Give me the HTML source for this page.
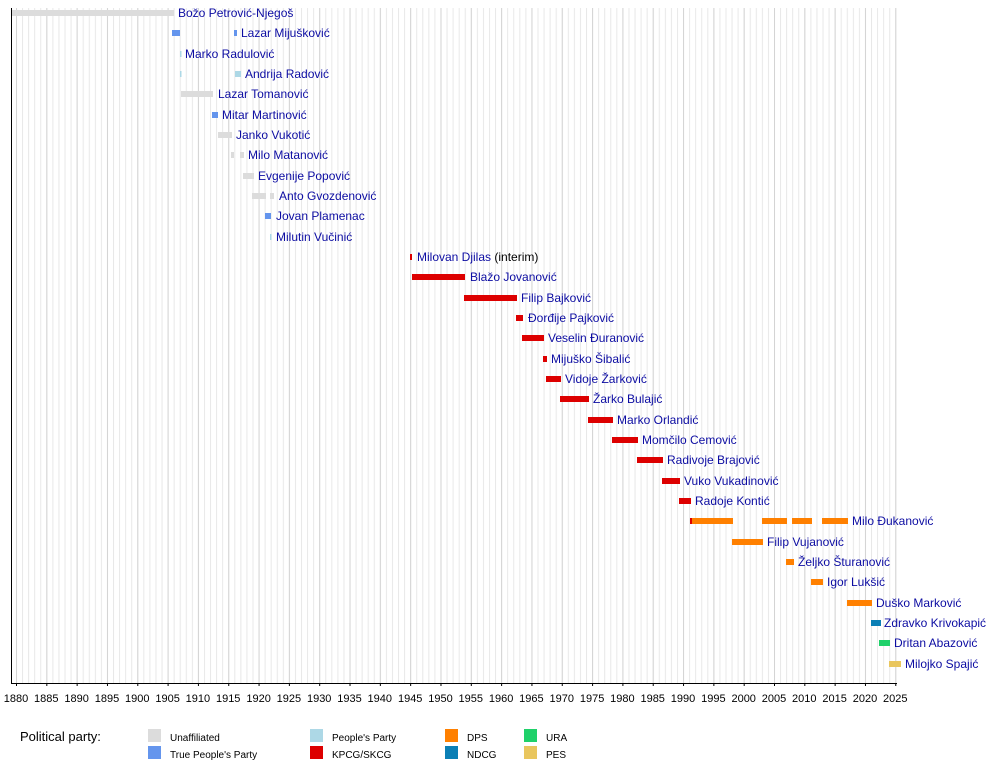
<!DOCTYPE html>
<html><head><meta charset="utf-8"><style>
html,body{margin:0;padding:0;background:#fff;width:1000px;height:762px;overflow:hidden}
svg{display:block}
text{font-family:"Liberation Sans",sans-serif}
.n{fill:#0c0ca2;font-size:12px}
.t{fill:#000;font-size:11px;text-anchor:middle}
.l{fill:#000;font-size:10px}
</style></head><body>
<svg width="1000" height="762" xmlns="http://www.w3.org/2000/svg">
<defs>
<pattern id="g1" x="16" y="0" width="6.064" height="700" patternUnits="userSpaceOnUse"><rect x="0" y="0" width="1" height="700" fill="#e8e8e8"/></pattern>
<pattern id="g5" x="16" y="0" width="30.32" height="700" patternUnits="userSpaceOnUse"><rect x="0" y="0" width="1" height="700" fill="#d4d4d4"/></pattern>
<pattern id="k1" x="16" y="0" width="6.064" height="10" patternUnits="userSpaceOnUse"><rect x="0" y="0" width="1" height="3" fill="#000"/></pattern>
<pattern id="k5" x="16" y="0" width="30.32" height="10" patternUnits="userSpaceOnUse"><rect x="0" y="0" width="1" height="6" fill="#000"/></pattern>
</defs>
<rect x="15" y="8" width="882" height="675" fill="url(#g1)"/>
<rect x="15" y="8" width="882" height="675" fill="url(#g5)"/>
<rect x="11" y="8" width="1" height="676" fill="#000"/>
<rect x="11" y="683" width="886" height="1" fill="#000"/>
<rect x="15" y="684" width="882" height="3" fill="url(#k1)"/>
<rect x="15" y="684" width="882" height="6" fill="url(#k5)"/>
<g class="t">
<text x="16" y="702">1880</text><text x="46.3" y="702">1885</text><text x="76.6" y="702">1890</text><text x="107" y="702">1895</text><text x="137.3" y="702">1900</text><text x="167.6" y="702">1905</text><text x="197.9" y="702">1910</text><text x="228.2" y="702">1915</text><text x="258.6" y="702">1920</text><text x="288.9" y="702">1925</text><text x="319.2" y="702">1930</text><text x="349.5" y="702">1935</text><text x="379.8" y="702">1940</text><text x="410.2" y="702">1945</text><text x="440.5" y="702">1950</text><text x="470.8" y="702">1955</text><text x="501.1" y="702">1960</text><text x="531.4" y="702">1965</text><text x="561.8" y="702">1970</text><text x="592.1" y="702">1975</text><text x="622.4" y="702">1980</text><text x="652.7" y="702">1985</text><text x="683" y="702">1990</text><text x="713.4" y="702">1995</text><text x="743.7" y="702">2000</text><text x="774" y="702">2005</text><text x="804.3" y="702">2010</text><text x="834.6" y="702">2015</text><text x="865" y="702">2020</text><text x="895.3" y="702">2025</text>
</g>
<g>
<rect x="12" y="10" width="162" height="6" fill="#dcdcdc"/>
<rect x="172" y="30" width="8" height="6" fill="#6495ed"/><rect x="234" y="30" width="3" height="6" fill="#6495ed"/>
<rect x="180" y="51" width="1.5" height="6" fill="#add8e6"/>
<rect x="180" y="71" width="1.5" height="6" fill="#add8e6"/><rect x="235" y="71" width="6" height="6" fill="#add8e6"/>
<rect x="181" y="91" width="32" height="6" fill="#dcdcdc"/>
<rect x="212" y="112" width="6" height="6" fill="#6495ed"/>
<rect x="218" y="132" width="14" height="6" fill="#dcdcdc"/>
<rect x="231" y="152" width="3" height="6" fill="#dcdcdc"/><rect x="240" y="152" width="4" height="6" fill="#dcdcdc"/>
<rect x="243" y="173" width="11" height="6" fill="#dcdcdc"/>
<rect x="252" y="193" width="14" height="6" fill="#dcdcdc"/><rect x="270" y="193" width="4" height="6" fill="#dcdcdc"/>
<rect x="265" y="213" width="6" height="6" fill="#6495ed"/>
<rect x="270" y="234" width="1.5" height="6" fill="#add8e6"/>
<g fill="#dd0000">
<rect x="410" y="254" width="2" height="6"/>
<rect x="412" y="274" width="53" height="6"/>
<rect x="464" y="295" width="53" height="6"/>
<rect x="516" y="315" width="7" height="6"/>
<rect x="522" y="335" width="22" height="6"/>
<rect x="543" y="356" width="4" height="6"/>
<rect x="546" y="376" width="15" height="6"/>
<rect x="560" y="396" width="29" height="6"/>
<rect x="588" y="417" width="25" height="6"/>
<rect x="612" y="437" width="26" height="6"/>
<rect x="637" y="457" width="26" height="6"/>
<rect x="662" y="478" width="18" height="6"/>
<rect x="679" y="498" width="12" height="6"/>
<rect x="690" y="518" width="2" height="6"/>
</g>
<g fill="#ff8000">
<rect x="692" y="518" width="41" height="6"/><rect x="762" y="518" width="25" height="6"/><rect x="792" y="518" width="20" height="6"/><rect x="822" y="518" width="26" height="6"/>
<rect x="732" y="539" width="31" height="6"/>
<rect x="786" y="559" width="8" height="6"/>
<rect x="811" y="579" width="12" height="6"/>
<rect x="847" y="600" width="25" height="6"/>
</g>
<rect x="871" y="620" width="10" height="6" fill="#0b7fb5"/>
<rect x="879" y="640" width="11" height="6" fill="#1fd16a"/>
<rect x="889" y="661" width="12" height="6" fill="#e9c65e"/>
</g>
<g class="n">
<text x="178" y="17">Božo Petrović-Njegoš</text>
<text x="241" y="37">Lazar Mijušković</text>
<text x="185" y="58">Marko Radulović</text>
<text x="245" y="78">Andrija Radović</text>
<text x="218" y="98">Lazar Tomanović</text>
<text x="222" y="119">Mitar Martinović</text>
<text x="236" y="139">Janko Vukotić</text>
<text x="248" y="159">Milo Matanović</text>
<text x="258" y="180">Evgenije Popović</text>
<text x="279" y="200">Anto Gvozdenović</text>
<text x="276" y="220">Jovan Plamenac</text>
<text x="276" y="241">Milutin Vučinić</text>
<text x="417" y="261">Milovan Djilas <tspan fill="#000">(interim)</tspan></text>
<text x="470" y="281">Blažo Jovanović</text>
<text x="521" y="302">Filip Bajković</text>
<text x="528" y="322">Đorđije Pajković</text>
<text x="548" y="342">Veselin Đuranović</text>
<text x="551" y="363">Mijuško Šibalić</text>
<text x="565" y="383">Vidoje Žarković</text>
<text x="593" y="403">Žarko Bulajić</text>
<text x="617" y="424">Marko Orlandić</text>
<text x="642" y="444">Momčilo Cemović</text>
<text x="667" y="464">Radivoje Brajović</text>
<text x="684" y="485">Vuko Vukadinović</text>
<text x="695" y="505">Radoje Kontić</text>
<text x="852" y="525">Milo Đukanović</text>
<text x="767" y="546">Filip Vujanović</text>
<text x="798" y="566">Željko Šturanović</text>
<text x="827" y="586">Igor Lukšić</text>
<text x="876" y="607">Duško Marković</text>
<text x="884" y="627">Zdravko Krivokapić</text>
<text x="894" y="647">Dritan Abazović</text>
<text x="905" y="668">Milojko Spajić</text>
</g>
<text x="20" y="741" style="font-size:13px" fill="#000">Political party:</text>
<rect x="148" y="729" width="13" height="13" fill="#dcdcdc"/>
<rect x="148" y="746" width="13" height="13" fill="#6495ed"/>
<rect x="310" y="729" width="13" height="13" fill="#add8e6"/>
<rect x="310" y="746" width="13" height="13" fill="#dd0000"/>
<rect x="445" y="729" width="13" height="13" fill="#ff8000"/>
<rect x="445" y="746" width="13" height="13" fill="#0b7fb5"/>
<rect x="524" y="729" width="13" height="13" fill="#1fd16a"/>
<rect x="524" y="746" width="13" height="13" fill="#e9c65e"/>
<g class="l">
<text x="170" y="741">Unaffiliated</text>
<text x="170" y="758">True People's Party</text>
<text x="332" y="741">People's Party</text>
<text x="332" y="758">KPCG/SKCG</text>
<text x="467" y="741">DPS</text>
<text x="467" y="758">NDCG</text>
<text x="546" y="741">URA</text>
<text x="546" y="758">PES</text>
</g>
</svg>
</body></html>
